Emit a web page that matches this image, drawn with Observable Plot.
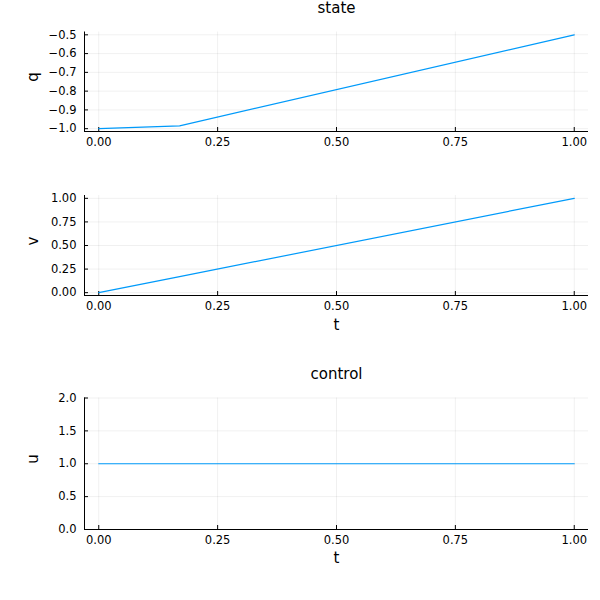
<!DOCTYPE html>
<html>
<head>
<meta charset="utf-8">
<script src="https://cdn.jsdelivr.net/npm/d3@7"></script>
<script src="https://cdn.jsdelivr.net/npm/@observablehq/plot@0.6"></script>
<style>
  html, body { margin: 0; padding: 0; background: #fff; }
  #chart { width: 600px; height: 600px; font-family: "DejaVu Sans", sans-serif; }
  #chart svg { display: block; font-family: "DejaVu Sans", sans-serif; }
</style>
</head>
<body>
<div id="chart"></div>
<script>
// ---- data ----
const tState = [0, 0.17, 1.0];
const qValues = [-1.0, -0.985, -0.5];
const vValues = [0, 0.17, 1.0];
const tControl = [0, 1.0];
const uValues = [1.0, 1.0];

const tTicks = [0, 0.25, 0.5, 0.75, 1.0];
const qTicks = [-1.0, -0.9, -0.8, -0.7, -0.6, -0.5];
const vTicks = [0, 0.25, 0.5, 0.75, 1.0];
const uTicks = [0, 0.5, 1.0, 1.5, 2.0];

const tDomain = [-0.03, 1.03];
const qDomain = [-1.015, -0.485];
const vDomain = [-0.03, 1.03];
const uDomain = [0, 2];

const LINE = "#009AFA";

function panel({height, mt, mb, xs, ys, ydom, yticks, yfmt, ylabel, title, xlabel, titleDy, xlabelDy}) {
  const ml = 84, mr = 12, width = 600;
  const fh = height - mt - mb;
  const fw = width - ml - mr;
  const data = xs.map((x, i) => ({x, y: ys[i]}));
  const marks = [
    Plot.gridX(tTicks, {stroke: "#000", strokeOpacity: 0.1, strokeWidth: 0.6}),
    Plot.gridY(yticks, {stroke: "#000", strokeOpacity: 0.1, strokeWidth: 0.6}),
    Plot.ruleX([tDomain[0]], {stroke: "#000", strokeWidth: 1}),
    Plot.ruleY([ydom[0]], {stroke: "#000", strokeWidth: 1}),
    Plot.ruleX(tTicks, {insetTop: fh - 4, stroke: "#000", strokeWidth: 1}),
    Plot.ruleY(yticks, {insetRight: fw - 4, stroke: "#000", strokeWidth: 1}),
    Plot.axisX(tTicks, {tickSize: 0, tickPadding: 6, tickFormat: d3.format(".2f"), fontSize: 11.5, label: null, fill: "#000"}),
    Plot.axisY(yticks, {tickSize: 0, tickPadding: 8, tickFormat: yfmt, fontSize: 11.5, label: null, fill: "#000"}),
    Plot.line(data, {x: "x", y: "y", stroke: LINE, strokeWidth: 1.2}),
    Plot.text([ylabel], {text: d => d, frameAnchor: "left", dx: -51, rotate: -90, lineAnchor: "middle", fontSize: 15, fill: "#000"})
  ];
  if (title) marks.push(Plot.text([title], {text: d => d, frameAnchor: "top", dy: titleDy, lineAnchor: "middle", fontSize: 15, fill: "#000"}));
  if (xlabel) marks.push(Plot.text([xlabel], {text: d => d, frameAnchor: "bottom", dy: xlabelDy, lineAnchor: "middle", fontSize: 15, fill: "#000"}));
  return Plot.plot({
    width, height,
    marginTop: mt, marginBottom: mb, marginLeft: ml, marginRight: mr,
    x: {domain: tDomain, axis: null},
    y: {domain: ydom, axis: null},
    style: {fontFamily: "DejaVu Sans, sans-serif", background: "#fff", overflow: "visible"},
    marks
  });
}

const chart = document.getElementById("chart");
chart.append(panel({
  height: 165, mt: 31.5, mb: 34, xs: tState, ys: qValues, ydom: qDomain, yticks: qTicks,
  yfmt: d3.format(".1f"), ylabel: "q", title: "state", titleDy: -23.5
}));
chart.append(panel({
  height: 180, mt: 30, mb: 50, xs: tState, ys: vValues, ydom: vDomain, yticks: vTicks,
  yfmt: d3.format(".2f"), ylabel: "v", xlabel: "t", xlabelDy: 30
}));
chart.append(panel({
  height: 255, mt: 52.5, mb: 71, xs: tControl, ys: uValues, ydom: uDomain, yticks: uTicks,
  yfmt: d3.format(".1f"), ylabel: "u", title: "control", titleDy: -23.5, xlabel: "t", xlabelDy: 29
}));
</script>
</body>
</html>
